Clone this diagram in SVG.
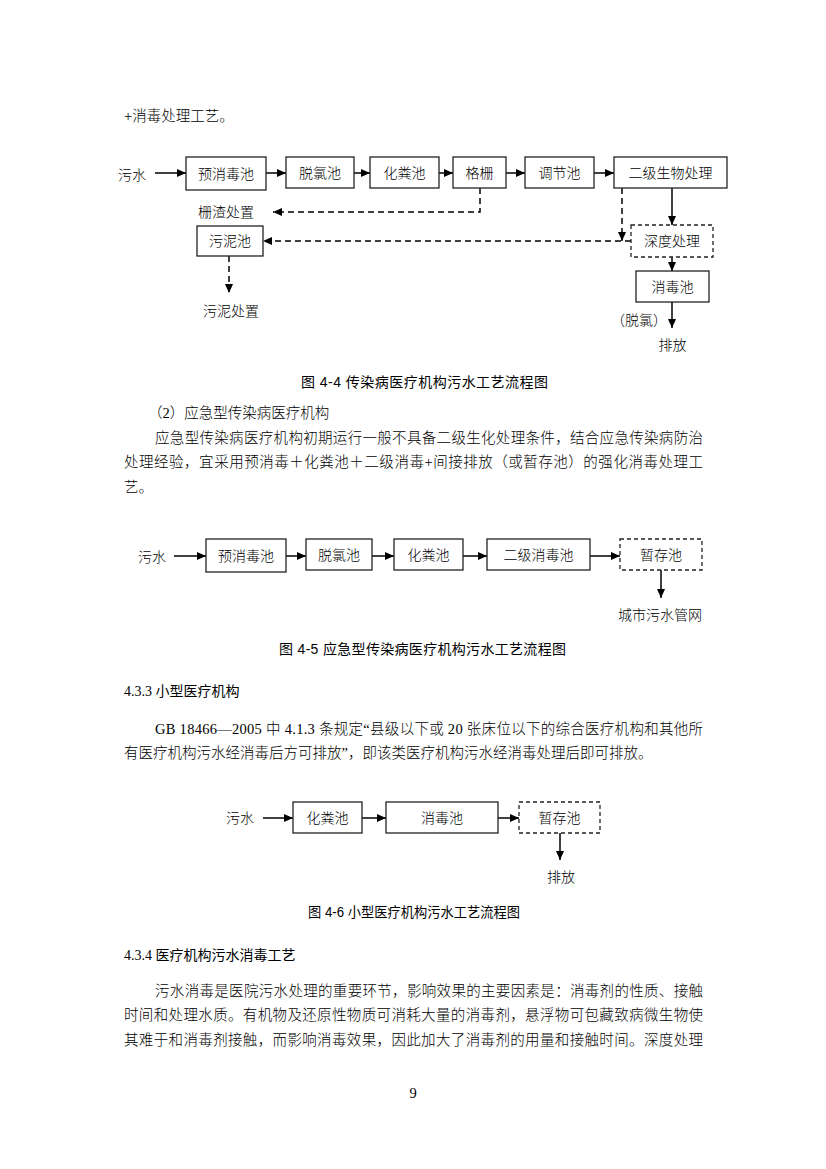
<svg xmlns="http://www.w3.org/2000/svg" width="826" height="1169" viewBox="0 0 826 1169">
<style>
.body{font-family:"Liberation Serif","Noto Sans CJK SC",serif;font-size:14.5px;font-weight:300;fill:#000}
.lbl{font-family:"Liberation Serif","Noto Sans CJK SC",serif;font-size:14px;font-weight:300;fill:#000}
.mid{text-anchor:middle}
.cap{font-family:"Liberation Sans","Noto Sans CJK SC",sans-serif;font-size:14px;font-weight:400;fill:#000}
.head{font-family:"Liberation Serif","Noto Sans CJK SC",sans-serif;font-size:14px;font-weight:400;fill:#000}
.box{fill:#fff;stroke:#222;stroke-width:1.3}
.dbox{fill:#fff;stroke:#222;stroke-width:1.3;stroke-dasharray:4 3}
.ln{fill:none;stroke:#000;stroke-width:1.5;marker-end:url(#ah)}
.dl{fill:none;stroke:#000;stroke-width:1.5;stroke-dasharray:6 4;marker-end:url(#ah)}
</style>
<defs>
<marker id="ah" markerUnits="userSpaceOnUse" markerWidth="10" markerHeight="8" refX="9" refY="4" orient="auto">
<path d="M0,0 L9,4 L0,8 z" fill="#000"/>
</marker>
</defs>
<rect width="826" height="1169" fill="#fff"/>

<g id="text-top">
<text class="body" x="124" y="120.5">+消毒处理工艺。</text>
</g>

<!-- Figure 4-4 -->
<g id="fig44-connectors">
<path class="ln" d="M155,173 H186"/>
<path class="ln" d="M266,173 H286"/>
<path class="ln" d="M354,173 H370"/>
<path class="ln" d="M439,173 H453"/>
<path class="ln" d="M506,173 H525"/>
<path class="ln" d="M594,173 H614"/>
<path class="dl" d="M480,188 V212 H273"/>
<path class="dl" d="M631,241 H263"/>
<path class="dl" d="M622,188 V241"/>
<path class="ln" d="M672,188 V225"/>
<path class="ln" d="M672,257 V271"/>
<path class="ln" d="M672,302 V328"/>
<path class="dl" d="M229,256 V293"/>
</g>
<g id="fig44-in"><text class="lbl" x="118" y="180">污水</text></g>
<g id="fig44-yuxiaodu"><rect class="box" x="186" y="157" width="80" height="33"/><text class="lbl mid" x="226" y="178.8">预消毒池</text></g>
<g id="fig44-tuolv"><rect class="box" x="286" y="157" width="68" height="31"/><text class="lbl mid" x="320" y="177.8">脱氯池</text></g>
<g id="fig44-huafen"><rect class="box" x="370" y="157" width="69" height="31"/><text class="lbl mid" x="404.5" y="177.8">化粪池</text></g>
<g id="fig44-geshan"><rect class="box" x="453" y="157" width="53" height="31"/><text class="lbl mid" x="479.5" y="177.8">格栅</text></g>
<g id="fig44-tiaojie"><rect class="box" x="525" y="157" width="69" height="31"/><text class="lbl mid" x="559.5" y="177.8">调节池</text></g>
<g id="fig44-erji"><rect class="box" x="614" y="157" width="113" height="31"/><text class="lbl mid" x="670.5" y="177.8">二级生物处理</text></g>
<g id="fig44-zhazha"><text class="lbl" x="198" y="217.3">栅渣处置</text></g>
<g id="fig44-wuni"><rect class="box" x="197" y="226" width="66" height="30"/><text class="lbl mid" x="230" y="246.3">污泥池</text></g>
<g id="fig44-wuniczhi"><text class="lbl" x="203" y="316.3">污泥处置</text></g>
<g id="fig44-shendu"><rect class="dbox" x="631" y="225" width="82" height="32"/><text class="lbl mid" x="672" y="246.3">深度处理</text></g>
<g id="fig44-xiaodu"><rect class="box" x="636" y="271" width="73" height="31"/><text class="lbl mid" x="672.5" y="291.8">消毒池</text></g>
<g id="fig44-tuolvlbl"><text class="lbl mid" x="639" y="325.3">（脱氯）</text></g>
<g id="fig44-paifang"><text class="lbl mid" x="672.5" y="350.3">排放</text></g>
<g id="fig44-caption"><text class="cap" x="301" y="387" textLength="247" lengthAdjust="spacing">图 4-4  传染病医疗机构污水工艺流程图</text></g>

<g id="text-sec2">
<text class="body" x="148" y="417.5">（2）应急型传染病医疗机构</text>
<text class="body" x="155" y="442.5" textLength="548" lengthAdjust="spacing">应急型传染病医疗机构初期运行一般不具备二级生化处理条件，结合应急传染病防治</text>
<text class="body" x="124" y="466.5" textLength="579" lengthAdjust="spacing">处理经验，宜采用预消毒＋化粪池＋二级消毒+间接排放（或暂存池）的强化消毒处理工</text>
<text class="body" x="124" y="491.5">艺。</text>
</g>

<!-- Figure 4-5 -->
<g id="fig45-connectors">
<path class="ln" d="M174,556 H206"/>
<path class="ln" d="M286,556 H306"/>
<path class="ln" d="M372,556 H394"/>
<path class="ln" d="M463,556 H487"/>
<path class="ln" d="M590,556 H620"/>
<path class="ln" d="M661,570 V598"/>
</g>
<g id="fig45-in"><text class="lbl" x="138" y="562.3">污水</text></g>
<g id="fig45-yuxiaodu"><rect class="box" x="206" y="539" width="80" height="33"/><text class="lbl mid" x="246" y="560.8">预消毒池</text></g>
<g id="fig45-tuolv"><rect class="box" x="306" y="539" width="66" height="31"/><text class="lbl mid" x="339" y="559.8">脱氯池</text></g>
<g id="fig45-huafen"><rect class="box" x="394" y="539" width="69" height="31"/><text class="lbl mid" x="428.5" y="559.8">化粪池</text></g>
<g id="fig45-erji"><rect class="box" x="487" y="539" width="103" height="31"/><text class="lbl mid" x="538.5" y="559.8">二级消毒池</text></g>
<g id="fig45-zancun"><rect class="dbox" x="620" y="539" width="82" height="31"/><text class="lbl mid" x="661" y="559.8">暂存池</text></g>
<g id="fig45-out"><text class="lbl mid" x="660" y="620.3">城市污水管网</text></g>
<g id="fig45-caption"><text class="cap" x="279" y="654" textLength="287" lengthAdjust="spacing">图 4-5  应急型传染病医疗机构污水工艺流程图</text></g>

<g id="text-433">
<text class="head" x="124" y="696">4.3.3 小型医疗机构</text>
<text class="body" x="155" y="733.5" textLength="548" lengthAdjust="spacing">GB 18466—2005 中 4.1.3 条规定“县级以下或 20 张床位以下的综合医疗机构和其他所</text>
<text class="body" x="124" y="757.5">有医疗机构污水经消毒后方可排放”，即该类医疗机构污水经消毒处理后即可排放。</text>
</g>

<!-- Figure 4-6 -->
<g id="fig46-connectors">
<path class="ln" d="M263,818 H293"/>
<path class="ln" d="M362,818 H386"/>
<path class="ln" d="M498,818 H519"/>
<path class="ln" d="M560,833 V860"/>
</g>
<g id="fig46-in"><text class="lbl" x="226" y="823">污水</text></g>
<g id="fig46-huafen"><rect class="box" x="293" y="802" width="69" height="31"/><text class="lbl mid" x="327.5" y="822.8">化粪池</text></g>
<g id="fig46-xiaodu"><rect class="box" x="386" y="802" width="112" height="31"/><text class="lbl mid" x="442" y="822.8">消毒池</text></g>
<g id="fig46-zancun"><rect class="dbox" x="519" y="802" width="81" height="31"/><text class="lbl mid" x="559.5" y="822.8">暂存池</text></g>
<g id="fig46-out"><text class="lbl mid" x="561" y="882">排放</text></g>
<g id="fig46-caption"><text class="cap" x="308" y="917" textLength="212" lengthAdjust="spacingAndGlyphs">图 4-6  小型医疗机构污水工艺流程图</text></g>

<g id="text-434">
<text class="head" x="124" y="960">4.3.4 医疗机构污水消毒工艺</text>
<text class="body" x="155" y="995.5" textLength="548" lengthAdjust="spacing">污水消毒是医院污水处理的重要环节，影响效果的主要因素是：消毒剂的性质、接触</text>
<text class="body" x="124" y="1019.5" textLength="579" lengthAdjust="spacing">时间和处理水质。有机物及还原性物质可消耗大量的消毒剂，悬浮物可包藏致病微生物使</text>
<text class="body" x="124" y="1044.5" textLength="579" lengthAdjust="spacing">其难于和消毒剂接触，而影响消毒效果，因此加大了消毒剂的用量和接触时间。深度处理</text>
<text class="body mid" x="413" y="1098">9</text>
</g>
</svg>
